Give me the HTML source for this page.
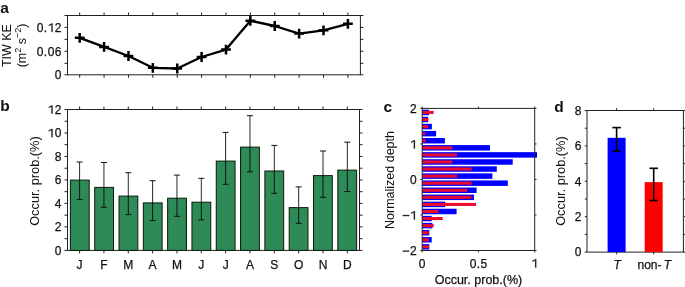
<!DOCTYPE html>
<html><head><meta charset="utf-8"><style>
html,body{margin:0;padding:0;background:#fff;width:685px;height:287px;overflow:hidden}
svg{display:block;font-family:"Liberation Sans", sans-serif;fill:#111;will-change:transform;filter:blur(0.3px)}
text{fill:#111;stroke:#111;stroke-width:0.25px}
.g{stroke:#111;stroke-width:0.3px}
</style></head><body>
<svg width="685" height="287" viewBox="0 0 685 287">
<rect x="67.5" y="15.5" width="292.9" height="59.3" fill="none" stroke="#222" stroke-width="1.0"/>
<line x1="64.50" y1="74.80" x2="67.50" y2="74.80" stroke="#222" stroke-width="1.0"/>
<line x1="360.40" y1="74.80" x2="363.40" y2="74.80" stroke="#222" stroke-width="1.0"/>
<line x1="64.50" y1="63.30" x2="67.50" y2="63.30" stroke="#222" stroke-width="1.0"/>
<line x1="360.40" y1="63.30" x2="363.40" y2="63.30" stroke="#222" stroke-width="1.0"/>
<line x1="64.50" y1="51.30" x2="67.50" y2="51.30" stroke="#222" stroke-width="1.0"/>
<line x1="360.40" y1="51.30" x2="363.40" y2="51.30" stroke="#222" stroke-width="1.0"/>
<line x1="64.50" y1="39.35" x2="67.50" y2="39.35" stroke="#222" stroke-width="1.0"/>
<line x1="360.40" y1="39.35" x2="363.40" y2="39.35" stroke="#222" stroke-width="1.0"/>
<line x1="64.50" y1="27.40" x2="67.50" y2="27.40" stroke="#222" stroke-width="1.0"/>
<line x1="360.40" y1="27.40" x2="363.40" y2="27.40" stroke="#222" stroke-width="1.0"/>
<line x1="64.50" y1="15.50" x2="67.50" y2="15.50" stroke="#222" stroke-width="1.0"/>
<line x1="360.40" y1="15.50" x2="363.40" y2="15.50" stroke="#222" stroke-width="1.0"/>
<line x1="79.70" y1="74.80" x2="79.70" y2="77.80" stroke="#222" stroke-width="1.0"/>
<line x1="79.70" y1="12.50" x2="79.70" y2="15.50" stroke="#222" stroke-width="1.0"/>
<line x1="104.08" y1="74.80" x2="104.08" y2="77.80" stroke="#222" stroke-width="1.0"/>
<line x1="104.08" y1="12.50" x2="104.08" y2="15.50" stroke="#222" stroke-width="1.0"/>
<line x1="128.46" y1="74.80" x2="128.46" y2="77.80" stroke="#222" stroke-width="1.0"/>
<line x1="128.46" y1="12.50" x2="128.46" y2="15.50" stroke="#222" stroke-width="1.0"/>
<line x1="152.84" y1="74.80" x2="152.84" y2="77.80" stroke="#222" stroke-width="1.0"/>
<line x1="152.84" y1="12.50" x2="152.84" y2="15.50" stroke="#222" stroke-width="1.0"/>
<line x1="177.22" y1="74.80" x2="177.22" y2="77.80" stroke="#222" stroke-width="1.0"/>
<line x1="177.22" y1="12.50" x2="177.22" y2="15.50" stroke="#222" stroke-width="1.0"/>
<line x1="201.60" y1="74.80" x2="201.60" y2="77.80" stroke="#222" stroke-width="1.0"/>
<line x1="201.60" y1="12.50" x2="201.60" y2="15.50" stroke="#222" stroke-width="1.0"/>
<line x1="225.98" y1="74.80" x2="225.98" y2="77.80" stroke="#222" stroke-width="1.0"/>
<line x1="225.98" y1="12.50" x2="225.98" y2="15.50" stroke="#222" stroke-width="1.0"/>
<line x1="250.36" y1="74.80" x2="250.36" y2="77.80" stroke="#222" stroke-width="1.0"/>
<line x1="250.36" y1="12.50" x2="250.36" y2="15.50" stroke="#222" stroke-width="1.0"/>
<line x1="274.74" y1="74.80" x2="274.74" y2="77.80" stroke="#222" stroke-width="1.0"/>
<line x1="274.74" y1="12.50" x2="274.74" y2="15.50" stroke="#222" stroke-width="1.0"/>
<line x1="299.12" y1="74.80" x2="299.12" y2="77.80" stroke="#222" stroke-width="1.0"/>
<line x1="299.12" y1="12.50" x2="299.12" y2="15.50" stroke="#222" stroke-width="1.0"/>
<line x1="323.50" y1="74.80" x2="323.50" y2="77.80" stroke="#222" stroke-width="1.0"/>
<line x1="323.50" y1="12.50" x2="323.50" y2="15.50" stroke="#222" stroke-width="1.0"/>
<line x1="347.88" y1="74.80" x2="347.88" y2="77.80" stroke="#222" stroke-width="1.0"/>
<line x1="347.88" y1="12.50" x2="347.88" y2="15.50" stroke="#222" stroke-width="1.0"/>
<text x="54.83" y="79.20" font-size="12">0</text>
<text x="36.64" y="55.70" font-size="12">0</text>
<text x="43.82" y="55.70" font-size="12">.</text>
<text x="47.65" y="55.70" font-size="12">0</text>
<text x="54.83" y="55.70" font-size="12">6</text>
<text x="36.64" y="31.80" font-size="12">0</text>
<text x="43.82" y="31.80" font-size="12">.</text>
<path transform="translate(47.65,31.80) scale(0.005859,-0.005859)" d="M831,0L831,1409L665,1409L200,1150L200,990L650,1230L650,0Z" fill="#111" stroke="#111" stroke-width="42.7"/>
<text x="54.83" y="31.80" font-size="12">2</text>
<polyline points="79.70,37.85 104.08,46.90 128.46,56.00 152.84,67.80 177.22,68.50 201.60,57.00 225.98,49.60 250.36,20.80 274.74,26.00 299.12,33.60 323.50,30.30 347.88,23.80" fill="none" stroke="#000" stroke-width="2.35" stroke-linejoin="round"/>
<path d="M74.80 37.85H84.60M79.70 32.95V42.75" stroke="#000" stroke-width="2.5"/>
<path d="M99.18 46.90H108.98M104.08 42.00V51.80" stroke="#000" stroke-width="2.5"/>
<path d="M123.56 56.00H133.36M128.46 51.10V60.90" stroke="#000" stroke-width="2.5"/>
<path d="M147.94 67.80H157.74M152.84 62.90V72.70" stroke="#000" stroke-width="2.5"/>
<path d="M172.32 68.50H182.12M177.22 63.60V73.40" stroke="#000" stroke-width="2.5"/>
<path d="M196.70 57.00H206.50M201.60 52.10V61.90" stroke="#000" stroke-width="2.5"/>
<path d="M221.08 49.60H230.88M225.98 44.70V54.50" stroke="#000" stroke-width="2.5"/>
<path d="M245.46 20.80H255.26M250.36 15.90V25.70" stroke="#000" stroke-width="2.5"/>
<path d="M269.84 26.00H279.64M274.74 21.10V30.90" stroke="#000" stroke-width="2.5"/>
<path d="M294.22 33.60H304.02M299.12 28.70V38.50" stroke="#000" stroke-width="2.5"/>
<path d="M318.60 30.30H328.40M323.50 25.40V35.20" stroke="#000" stroke-width="2.5"/>
<path d="M342.98 23.80H352.78M347.88 18.90V28.70" stroke="#000" stroke-width="2.5"/>
<text transform="translate(11.3,45.6) rotate(-90) scale(1,1.07)" style="stroke:none" text-anchor="middle" font-size="12.5">TIW KE</text>
<text transform="translate(26.1,45.5) rotate(-90) scale(1,1.07)" style="stroke:none" text-anchor="middle" font-size="12.5">(m<tspan dy="-5" font-size="9">2</tspan><tspan dy="5"> s</tspan><tspan dy="-5" font-size="9">−2</tspan><tspan dy="5">)</tspan></text>
<text x="0.2" y="13.4" font-size="15.5" font-weight="bold" style="stroke:none">a</text>
<rect x="67.5" y="109.5" width="292.0" height="140.9" fill="none" stroke="#222" stroke-width="1.0"/>
<line x1="64.50" y1="250.40" x2="67.50" y2="250.40" stroke="#222" stroke-width="1.0"/>
<line x1="359.50" y1="250.40" x2="362.50" y2="250.40" stroke="#222" stroke-width="1.0"/>
<line x1="64.50" y1="238.66" x2="67.50" y2="238.66" stroke="#222" stroke-width="1.0"/>
<line x1="359.50" y1="238.66" x2="362.50" y2="238.66" stroke="#222" stroke-width="1.0"/>
<line x1="64.50" y1="226.92" x2="67.50" y2="226.92" stroke="#222" stroke-width="1.0"/>
<line x1="359.50" y1="226.92" x2="362.50" y2="226.92" stroke="#222" stroke-width="1.0"/>
<line x1="64.50" y1="215.17" x2="67.50" y2="215.17" stroke="#222" stroke-width="1.0"/>
<line x1="359.50" y1="215.17" x2="362.50" y2="215.17" stroke="#222" stroke-width="1.0"/>
<line x1="64.50" y1="203.43" x2="67.50" y2="203.43" stroke="#222" stroke-width="1.0"/>
<line x1="359.50" y1="203.43" x2="362.50" y2="203.43" stroke="#222" stroke-width="1.0"/>
<line x1="64.50" y1="191.69" x2="67.50" y2="191.69" stroke="#222" stroke-width="1.0"/>
<line x1="359.50" y1="191.69" x2="362.50" y2="191.69" stroke="#222" stroke-width="1.0"/>
<line x1="64.50" y1="179.95" x2="67.50" y2="179.95" stroke="#222" stroke-width="1.0"/>
<line x1="359.50" y1="179.95" x2="362.50" y2="179.95" stroke="#222" stroke-width="1.0"/>
<line x1="64.50" y1="168.21" x2="67.50" y2="168.21" stroke="#222" stroke-width="1.0"/>
<line x1="359.50" y1="168.21" x2="362.50" y2="168.21" stroke="#222" stroke-width="1.0"/>
<line x1="64.50" y1="156.46" x2="67.50" y2="156.46" stroke="#222" stroke-width="1.0"/>
<line x1="359.50" y1="156.46" x2="362.50" y2="156.46" stroke="#222" stroke-width="1.0"/>
<line x1="64.50" y1="144.72" x2="67.50" y2="144.72" stroke="#222" stroke-width="1.0"/>
<line x1="359.50" y1="144.72" x2="362.50" y2="144.72" stroke="#222" stroke-width="1.0"/>
<line x1="64.50" y1="132.98" x2="67.50" y2="132.98" stroke="#222" stroke-width="1.0"/>
<line x1="359.50" y1="132.98" x2="362.50" y2="132.98" stroke="#222" stroke-width="1.0"/>
<line x1="64.50" y1="121.24" x2="67.50" y2="121.24" stroke="#222" stroke-width="1.0"/>
<line x1="359.50" y1="121.24" x2="362.50" y2="121.24" stroke="#222" stroke-width="1.0"/>
<line x1="64.50" y1="109.50" x2="67.50" y2="109.50" stroke="#222" stroke-width="1.0"/>
<line x1="359.50" y1="109.50" x2="362.50" y2="109.50" stroke="#222" stroke-width="1.0"/>
<text x="54.83" y="254.60" font-size="12">0</text>
<text x="54.83" y="231.12" font-size="12">2</text>
<text x="54.83" y="207.63" font-size="12">4</text>
<text x="54.83" y="184.15" font-size="12">6</text>
<text x="54.83" y="160.66" font-size="12">8</text>
<path transform="translate(47.65,137.18) scale(0.005859,-0.005859)" d="M831,0L831,1409L665,1409L200,1150L200,990L650,1230L650,0Z" fill="#111" stroke="#111" stroke-width="42.7"/>
<text x="54.83" y="137.18" font-size="12">0</text>
<path transform="translate(47.65,113.70) scale(0.005859,-0.005859)" d="M831,0L831,1409L665,1409L200,1150L200,990L650,1230L650,0Z" fill="#111" stroke="#111" stroke-width="42.7"/>
<text x="54.83" y="113.70" font-size="12">2</text>
<line x1="79.60" y1="250.40" x2="79.60" y2="253.40" stroke="#222" stroke-width="1.0"/>
<line x1="79.60" y1="106.50" x2="79.60" y2="109.50" stroke="#222" stroke-width="1.0"/>
<line x1="103.94" y1="250.40" x2="103.94" y2="253.40" stroke="#222" stroke-width="1.0"/>
<line x1="103.94" y1="106.50" x2="103.94" y2="109.50" stroke="#222" stroke-width="1.0"/>
<line x1="128.28" y1="250.40" x2="128.28" y2="253.40" stroke="#222" stroke-width="1.0"/>
<line x1="128.28" y1="106.50" x2="128.28" y2="109.50" stroke="#222" stroke-width="1.0"/>
<line x1="152.62" y1="250.40" x2="152.62" y2="253.40" stroke="#222" stroke-width="1.0"/>
<line x1="152.62" y1="106.50" x2="152.62" y2="109.50" stroke="#222" stroke-width="1.0"/>
<line x1="176.96" y1="250.40" x2="176.96" y2="253.40" stroke="#222" stroke-width="1.0"/>
<line x1="176.96" y1="106.50" x2="176.96" y2="109.50" stroke="#222" stroke-width="1.0"/>
<line x1="201.30" y1="250.40" x2="201.30" y2="253.40" stroke="#222" stroke-width="1.0"/>
<line x1="201.30" y1="106.50" x2="201.30" y2="109.50" stroke="#222" stroke-width="1.0"/>
<line x1="225.64" y1="250.40" x2="225.64" y2="253.40" stroke="#222" stroke-width="1.0"/>
<line x1="225.64" y1="106.50" x2="225.64" y2="109.50" stroke="#222" stroke-width="1.0"/>
<line x1="249.98" y1="250.40" x2="249.98" y2="253.40" stroke="#222" stroke-width="1.0"/>
<line x1="249.98" y1="106.50" x2="249.98" y2="109.50" stroke="#222" stroke-width="1.0"/>
<line x1="274.32" y1="250.40" x2="274.32" y2="253.40" stroke="#222" stroke-width="1.0"/>
<line x1="274.32" y1="106.50" x2="274.32" y2="109.50" stroke="#222" stroke-width="1.0"/>
<line x1="298.66" y1="250.40" x2="298.66" y2="253.40" stroke="#222" stroke-width="1.0"/>
<line x1="298.66" y1="106.50" x2="298.66" y2="109.50" stroke="#222" stroke-width="1.0"/>
<line x1="323.00" y1="250.40" x2="323.00" y2="253.40" stroke="#222" stroke-width="1.0"/>
<line x1="323.00" y1="106.50" x2="323.00" y2="109.50" stroke="#222" stroke-width="1.0"/>
<line x1="347.34" y1="250.40" x2="347.34" y2="253.40" stroke="#222" stroke-width="1.0"/>
<line x1="347.34" y1="106.50" x2="347.34" y2="109.50" stroke="#222" stroke-width="1.0"/>
<rect x="70.40" y="180.10" width="18.8" height="70.30" fill="#2e8b57" stroke="#0a1a0a" stroke-width="1"/>
<rect x="94.71" y="187.40" width="18.8" height="63.00" fill="#2e8b57" stroke="#0a1a0a" stroke-width="1"/>
<rect x="119.02" y="196.10" width="18.8" height="54.30" fill="#2e8b57" stroke="#0a1a0a" stroke-width="1"/>
<rect x="143.33" y="202.90" width="18.8" height="47.50" fill="#2e8b57" stroke="#0a1a0a" stroke-width="1"/>
<rect x="167.64" y="198.20" width="18.8" height="52.20" fill="#2e8b57" stroke="#0a1a0a" stroke-width="1"/>
<rect x="191.95" y="202.20" width="18.8" height="48.20" fill="#2e8b57" stroke="#0a1a0a" stroke-width="1"/>
<rect x="216.26" y="161.10" width="18.8" height="89.30" fill="#2e8b57" stroke="#0a1a0a" stroke-width="1"/>
<rect x="240.57" y="147.10" width="18.8" height="103.30" fill="#2e8b57" stroke="#0a1a0a" stroke-width="1"/>
<rect x="264.88" y="171.00" width="18.8" height="79.40" fill="#2e8b57" stroke="#0a1a0a" stroke-width="1"/>
<rect x="289.19" y="207.60" width="18.8" height="42.80" fill="#2e8b57" stroke="#0a1a0a" stroke-width="1"/>
<rect x="313.50" y="175.60" width="18.8" height="74.80" fill="#2e8b57" stroke="#0a1a0a" stroke-width="1"/>
<rect x="337.81" y="170.10" width="18.8" height="80.30" fill="#2e8b57" stroke="#0a1a0a" stroke-width="1"/>
<line x1="79.60" y1="162.00" x2="79.60" y2="199.40" stroke="#000" stroke-width="0.85"/>
<line x1="76.60" y1="162.00" x2="82.60" y2="162.00" stroke="#111" stroke-width="1.0"/>
<line x1="76.60" y1="199.40" x2="82.60" y2="199.40" stroke="#111" stroke-width="1.0"/>
<line x1="103.94" y1="162.50" x2="103.94" y2="207.30" stroke="#000" stroke-width="0.85"/>
<line x1="100.94" y1="162.50" x2="106.94" y2="162.50" stroke="#111" stroke-width="1.0"/>
<line x1="100.94" y1="207.30" x2="106.94" y2="207.30" stroke="#111" stroke-width="1.0"/>
<line x1="128.28" y1="172.70" x2="128.28" y2="214.60" stroke="#000" stroke-width="0.85"/>
<line x1="125.28" y1="172.70" x2="131.28" y2="172.70" stroke="#111" stroke-width="1.0"/>
<line x1="125.28" y1="214.60" x2="131.28" y2="214.60" stroke="#111" stroke-width="1.0"/>
<line x1="152.62" y1="180.70" x2="152.62" y2="220.50" stroke="#000" stroke-width="0.85"/>
<line x1="149.62" y1="180.70" x2="155.62" y2="180.70" stroke="#111" stroke-width="1.0"/>
<line x1="149.62" y1="220.50" x2="155.62" y2="220.50" stroke="#111" stroke-width="1.0"/>
<line x1="176.96" y1="175.10" x2="176.96" y2="216.30" stroke="#000" stroke-width="0.85"/>
<line x1="173.96" y1="175.10" x2="179.96" y2="175.10" stroke="#111" stroke-width="1.0"/>
<line x1="173.96" y1="216.30" x2="179.96" y2="216.30" stroke="#111" stroke-width="1.0"/>
<line x1="201.30" y1="178.30" x2="201.30" y2="219.80" stroke="#000" stroke-width="0.85"/>
<line x1="198.30" y1="178.30" x2="204.30" y2="178.30" stroke="#111" stroke-width="1.0"/>
<line x1="198.30" y1="219.80" x2="204.30" y2="219.80" stroke="#111" stroke-width="1.0"/>
<line x1="225.64" y1="132.40" x2="225.64" y2="184.30" stroke="#000" stroke-width="0.85"/>
<line x1="222.64" y1="132.40" x2="228.64" y2="132.40" stroke="#111" stroke-width="1.0"/>
<line x1="222.64" y1="184.30" x2="228.64" y2="184.30" stroke="#111" stroke-width="1.0"/>
<line x1="249.98" y1="115.70" x2="249.98" y2="171.80" stroke="#000" stroke-width="0.85"/>
<line x1="246.98" y1="115.70" x2="252.98" y2="115.70" stroke="#111" stroke-width="1.0"/>
<line x1="246.98" y1="171.80" x2="252.98" y2="171.80" stroke="#111" stroke-width="1.0"/>
<line x1="274.32" y1="145.40" x2="274.32" y2="193.30" stroke="#000" stroke-width="0.85"/>
<line x1="271.32" y1="145.40" x2="277.32" y2="145.40" stroke="#111" stroke-width="1.0"/>
<line x1="271.32" y1="193.30" x2="277.32" y2="193.30" stroke="#111" stroke-width="1.0"/>
<line x1="298.66" y1="186.90" x2="298.66" y2="223.30" stroke="#000" stroke-width="0.85"/>
<line x1="295.66" y1="186.90" x2="301.66" y2="186.90" stroke="#111" stroke-width="1.0"/>
<line x1="295.66" y1="223.30" x2="301.66" y2="223.30" stroke="#111" stroke-width="1.0"/>
<line x1="323.00" y1="151.00" x2="323.00" y2="197.30" stroke="#000" stroke-width="0.85"/>
<line x1="320.00" y1="151.00" x2="326.00" y2="151.00" stroke="#111" stroke-width="1.0"/>
<line x1="320.00" y1="197.30" x2="326.00" y2="197.30" stroke="#111" stroke-width="1.0"/>
<line x1="347.34" y1="142.20" x2="347.34" y2="191.50" stroke="#000" stroke-width="0.85"/>
<line x1="344.34" y1="142.20" x2="350.34" y2="142.20" stroke="#111" stroke-width="1.0"/>
<line x1="344.34" y1="191.50" x2="350.34" y2="191.50" stroke="#111" stroke-width="1.0"/>
<text x="79.60" y="268.50" text-anchor="middle" font-size="12" letter-spacing="0" >J</text>
<text x="103.94" y="268.50" text-anchor="middle" font-size="12" letter-spacing="0" >F</text>
<text x="128.28" y="268.50" text-anchor="middle" font-size="12" letter-spacing="0" >M</text>
<text x="152.62" y="268.50" text-anchor="middle" font-size="12" letter-spacing="0" >A</text>
<text x="176.96" y="268.50" text-anchor="middle" font-size="12" letter-spacing="0" >M</text>
<text x="201.30" y="268.50" text-anchor="middle" font-size="12" letter-spacing="0" >J</text>
<text x="225.64" y="268.50" text-anchor="middle" font-size="12" letter-spacing="0" >J</text>
<text x="249.98" y="268.50" text-anchor="middle" font-size="12" letter-spacing="0" >A</text>
<text x="274.32" y="268.50" text-anchor="middle" font-size="12" letter-spacing="0" >S</text>
<text x="298.66" y="268.50" text-anchor="middle" font-size="12" letter-spacing="0" >O</text>
<text x="323.00" y="268.50" text-anchor="middle" font-size="12" letter-spacing="0" >N</text>
<text x="347.34" y="268.50" text-anchor="middle" font-size="12" letter-spacing="0" >D</text>
<text transform="translate(39.2,181.05) rotate(-90) scale(1,1.07)" style="stroke:none" text-anchor="middle" font-size="12.8">Occur. prob.(%)</text>
<text x="0.2" y="111.3" font-size="15.5" font-weight="bold" style="stroke:none">b</text>
<rect x="422.20" y="109.70" width="6.90" height="5.47" fill="#0000ff"/>
<rect x="422.20" y="110.90" width="11.40" height="3.08" fill="#ea0c2e"/>
<rect x="422.20" y="116.78" width="5.80" height="5.47" fill="#0000ff"/>
<rect x="422.20" y="117.98" width="6.30" height="3.08" fill="#ea0c2e"/>
<rect x="422.20" y="123.85" width="9.70" height="5.47" fill="#0000ff"/>
<rect x="422.20" y="125.05" width="5.80" height="3.08" fill="#ea0c2e"/>
<rect x="422.20" y="130.93" width="13.90" height="5.47" fill="#0000ff"/>
<rect x="422.20" y="132.12" width="3.00" height="3.08" fill="#ea0c2e"/>
<rect x="422.20" y="138.00" width="22.70" height="5.47" fill="#0000ff"/>
<rect x="422.20" y="139.20" width="3.50" height="3.08" fill="#ea0c2e"/>
<rect x="422.20" y="145.08" width="67.80" height="5.47" fill="#0000ff"/>
<rect x="422.20" y="146.28" width="30.20" height="3.08" fill="#ea0c2e"/>
<rect x="422.20" y="152.15" width="114.80" height="5.47" fill="#0000ff"/>
<rect x="422.20" y="153.35" width="34.80" height="3.08" fill="#ea0c2e"/>
<rect x="422.20" y="159.23" width="90.50" height="5.47" fill="#0000ff"/>
<rect x="422.20" y="160.43" width="30.20" height="3.08" fill="#ea0c2e"/>
<rect x="422.20" y="166.30" width="74.60" height="5.47" fill="#0000ff"/>
<rect x="422.20" y="167.50" width="49.50" height="3.08" fill="#ea0c2e"/>
<rect x="422.20" y="173.38" width="70.20" height="5.47" fill="#0000ff"/>
<rect x="422.20" y="174.58" width="34.80" height="3.08" fill="#ea0c2e"/>
<rect x="422.20" y="180.45" width="85.60" height="5.47" fill="#0000ff"/>
<rect x="422.20" y="181.65" width="49.50" height="3.08" fill="#ea0c2e"/>
<rect x="422.20" y="187.53" width="54.40" height="5.47" fill="#0000ff"/>
<rect x="422.20" y="188.73" width="44.90" height="3.08" fill="#ea0c2e"/>
<rect x="422.20" y="194.60" width="51.80" height="5.47" fill="#0000ff"/>
<rect x="422.20" y="195.80" width="49.20" height="3.08" fill="#ea0c2e"/>
<rect x="422.20" y="201.68" width="22.90" height="5.47" fill="#0000ff"/>
<rect x="422.20" y="202.88" width="53.90" height="3.08" fill="#ea0c2e"/>
<rect x="422.20" y="208.75" width="34.40" height="5.47" fill="#0000ff"/>
<rect x="422.20" y="209.95" width="16.10" height="3.08" fill="#ea0c2e"/>
<rect x="422.20" y="215.83" width="9.50" height="5.47" fill="#0000ff"/>
<rect x="422.20" y="217.03" width="20.50" height="3.08" fill="#ea0c2e"/>
<rect x="422.20" y="222.90" width="10.20" height="5.47" fill="#0000ff"/>
<rect x="422.20" y="224.10" width="11.50" height="3.08" fill="#ea0c2e"/>
<rect x="422.20" y="229.98" width="7.10" height="5.47" fill="#0000ff"/>
<rect x="422.20" y="231.18" width="6.60" height="3.08" fill="#ea0c2e"/>
<rect x="422.20" y="237.05" width="9.50" height="5.47" fill="#0000ff"/>
<rect x="422.20" y="238.25" width="6.60" height="3.08" fill="#ea0c2e"/>
<rect x="422.20" y="244.13" width="7.10" height="5.47" fill="#0000ff"/>
<rect x="422.20" y="245.33" width="6.60" height="3.08" fill="#ea0c2e"/>
<rect x="422.2" y="108.4" width="112.50000000000006" height="142.1" fill="none" stroke="#222" stroke-width="1.0"/>
<line x1="422.20" y1="250.50" x2="422.20" y2="252.30" stroke="#222" stroke-width="1.0"/>
<line x1="422.20" y1="106.60" x2="422.20" y2="108.40" stroke="#222" stroke-width="1.0"/>
<line x1="478.45" y1="250.50" x2="478.45" y2="252.30" stroke="#222" stroke-width="1.0"/>
<line x1="478.45" y1="106.60" x2="478.45" y2="108.40" stroke="#222" stroke-width="1.0"/>
<line x1="534.70" y1="250.50" x2="534.70" y2="252.30" stroke="#222" stroke-width="1.0"/>
<line x1="534.70" y1="106.60" x2="534.70" y2="108.40" stroke="#222" stroke-width="1.0"/>
<line x1="420.40" y1="250.50" x2="422.20" y2="250.50" stroke="#222" stroke-width="1.0"/>
<line x1="534.70" y1="250.50" x2="536.50" y2="250.50" stroke="#222" stroke-width="1.0"/>
<path transform="translate(402.72,255.10) scale(0.005859,-0.005859)" d="M10,600L1110,600L1110,760L10,760Z" fill="#111" stroke="#111" stroke-width="42.7"/>
<text x="410.03" y="255.10" font-size="12">2</text>
<line x1="420.40" y1="214.97" x2="422.20" y2="214.97" stroke="#222" stroke-width="1.0"/>
<line x1="534.70" y1="214.97" x2="536.50" y2="214.97" stroke="#222" stroke-width="1.0"/>
<path transform="translate(402.72,219.57) scale(0.005859,-0.005859)" d="M10,600L1110,600L1110,760L10,760Z" fill="#111" stroke="#111" stroke-width="42.7"/>
<path transform="translate(410.03,219.57) scale(0.005859,-0.005859)" d="M831,0L831,1409L665,1409L200,1150L200,990L650,1230L650,0Z" fill="#111" stroke="#111" stroke-width="42.7"/>
<line x1="420.40" y1="179.45" x2="422.20" y2="179.45" stroke="#222" stroke-width="1.0"/>
<line x1="534.70" y1="179.45" x2="536.50" y2="179.45" stroke="#222" stroke-width="1.0"/>
<text x="410.03" y="184.05" font-size="12">0</text>
<line x1="420.40" y1="143.93" x2="422.20" y2="143.93" stroke="#222" stroke-width="1.0"/>
<line x1="534.70" y1="143.93" x2="536.50" y2="143.93" stroke="#222" stroke-width="1.0"/>
<path transform="translate(410.03,148.53) scale(0.005859,-0.005859)" d="M831,0L831,1409L665,1409L200,1150L200,990L650,1230L650,0Z" fill="#111" stroke="#111" stroke-width="42.7"/>
<line x1="420.40" y1="108.40" x2="422.20" y2="108.40" stroke="#222" stroke-width="1.0"/>
<line x1="534.70" y1="108.40" x2="536.50" y2="108.40" stroke="#222" stroke-width="1.0"/>
<text x="410.03" y="113.00" font-size="12">2</text>
<text x="418.86" y="267.50" font-size="12">0</text>
<text x="469.81" y="267.50" font-size="12">0</text>
<text x="476.78" y="267.50" font-size="12">.</text>
<text x="480.42" y="267.50" font-size="12">5</text>
<path transform="translate(531.36,267.50) scale(0.005859,-0.005859)" d="M831,0L831,1409L665,1409L200,1150L200,990L650,1230L650,0Z" fill="#111" stroke="#111" stroke-width="42.7"/>
<text x="478.45" y="283.7" text-anchor="middle" font-size="12.5">Occur. prob.(%)</text>
<text transform="translate(394.2,180) rotate(-90) scale(1,1.07)" style="stroke:none" text-anchor="middle" font-size="12.5">Normalized depth</text>
<text x="383.4" y="111.8" font-size="15.5" font-weight="bold" style="stroke:none">c</text>
<rect x="587.0" y="110.5" width="96.39999999999998" height="141.6" fill="none" stroke="#222" stroke-width="1.0"/>
<line x1="584.80" y1="252.10" x2="587.00" y2="252.10" stroke="#222" stroke-width="1.0"/>
<line x1="683.40" y1="252.10" x2="685.60" y2="252.10" stroke="#222" stroke-width="1.0"/>
<line x1="584.80" y1="234.40" x2="587.00" y2="234.40" stroke="#222" stroke-width="1.0"/>
<line x1="683.40" y1="234.40" x2="685.60" y2="234.40" stroke="#222" stroke-width="1.0"/>
<line x1="584.80" y1="216.70" x2="587.00" y2="216.70" stroke="#222" stroke-width="1.0"/>
<line x1="683.40" y1="216.70" x2="685.60" y2="216.70" stroke="#222" stroke-width="1.0"/>
<line x1="584.80" y1="199.00" x2="587.00" y2="199.00" stroke="#222" stroke-width="1.0"/>
<line x1="683.40" y1="199.00" x2="685.60" y2="199.00" stroke="#222" stroke-width="1.0"/>
<line x1="584.80" y1="181.30" x2="587.00" y2="181.30" stroke="#222" stroke-width="1.0"/>
<line x1="683.40" y1="181.30" x2="685.60" y2="181.30" stroke="#222" stroke-width="1.0"/>
<line x1="584.80" y1="163.60" x2="587.00" y2="163.60" stroke="#222" stroke-width="1.0"/>
<line x1="683.40" y1="163.60" x2="685.60" y2="163.60" stroke="#222" stroke-width="1.0"/>
<line x1="584.80" y1="145.90" x2="587.00" y2="145.90" stroke="#222" stroke-width="1.0"/>
<line x1="683.40" y1="145.90" x2="685.60" y2="145.90" stroke="#222" stroke-width="1.0"/>
<line x1="584.80" y1="128.20" x2="587.00" y2="128.20" stroke="#222" stroke-width="1.0"/>
<line x1="683.40" y1="128.20" x2="685.60" y2="128.20" stroke="#222" stroke-width="1.0"/>
<line x1="584.80" y1="110.50" x2="587.00" y2="110.50" stroke="#222" stroke-width="1.0"/>
<line x1="683.40" y1="110.50" x2="685.60" y2="110.50" stroke="#222" stroke-width="1.0"/>
<text x="574.83" y="256.30" font-size="12">0</text>
<text x="574.83" y="220.90" font-size="12">2</text>
<text x="574.83" y="185.50" font-size="12">4</text>
<text x="574.83" y="150.10" font-size="12">6</text>
<text x="574.83" y="114.70" font-size="12">8</text>
<line x1="616.60" y1="252.10" x2="616.60" y2="254.30" stroke="#222" stroke-width="1.0"/>
<line x1="616.60" y1="108.30" x2="616.60" y2="110.50" stroke="#222" stroke-width="1.0"/>
<line x1="653.70" y1="252.10" x2="653.70" y2="254.30" stroke="#222" stroke-width="1.0"/>
<line x1="653.70" y1="108.30" x2="653.70" y2="110.50" stroke="#222" stroke-width="1.0"/>
<rect x="607.60" y="137.8" width="18" height="114.30" fill="#0000ff"/>
<rect x="644.70" y="182.1" width="18" height="70.00" fill="#ff0000"/>
<line x1="616.60" y1="127.60" x2="616.60" y2="151.20" stroke="#000" stroke-width="1.6"/>
<line x1="612.30" y1="127.60" x2="620.90" y2="127.60" stroke="#000" stroke-width="1.6"/>
<line x1="612.30" y1="151.20" x2="620.90" y2="151.20" stroke="#000" stroke-width="1.6"/>
<line x1="653.70" y1="168.30" x2="653.70" y2="200.50" stroke="#000" stroke-width="1.6"/>
<line x1="649.40" y1="168.30" x2="658.00" y2="168.30" stroke="#000" stroke-width="1.6"/>
<line x1="649.40" y1="200.50" x2="658.00" y2="200.50" stroke="#000" stroke-width="1.6"/>
<text x="617.10" y="268.60" text-anchor="middle" font-size="12" letter-spacing="0" font-style="italic">T</text>
<text x="654.30" y="268.6" text-anchor="middle" font-size="12">non-<tspan dx="2.3" font-style="italic">T</tspan></text>
<text transform="translate(565.2,181.05) rotate(-90) scale(1,1.07)" style="stroke:none" text-anchor="middle" font-size="12.8">Occur. prob.(%)</text>
<text x="554.3" y="111.6" font-size="15.5" font-weight="bold" style="stroke:none">d</text>
</svg></body></html>
